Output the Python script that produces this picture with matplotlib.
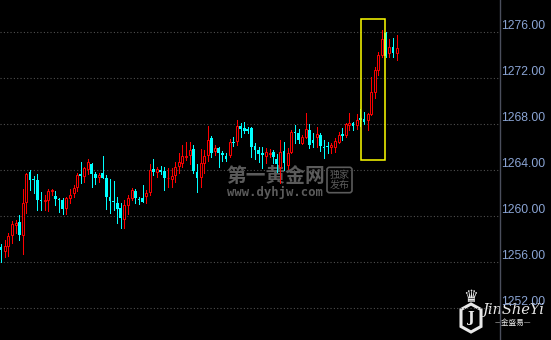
import matplotlib.pyplot as plt
import numpy as np
from matplotlib.patches import Rectangle, Polygon

# 数据: 每根K线的开高低收
opens = [1257.30, 1256.96, 1257.42, 1258.37, 1259.24, 1259.48, 1258.35, 1261.19, 1263.80, 1263.20,
         1263.13, 1261.39, 1261.33, 1261.39, 1262.20, 1261.74, 1261.48, 1261.39, 1260.72, 1261.59,
         1261.97, 1262.50, 1263.63, 1263.48, 1264.06, 1264.52, 1263.65, 1263.42, 1263.71, 1263.28,
         1261.62, 1261.33, 1261.10, 1260.72, 1259.74, 1260.96, 1261.59, 1262.17, 1261.45, 1261.54,
         1261.77, 1262.11, 1264.09, 1263.85, 1264.00, 1263.91, 1263.28, 1263.25, 1263.57, 1264.37,
         1264.63, 1265.16, 1265.30, 1265.83, 1263.85, 1263.37, 1264.58, 1265.30, 1266.81, 1265.68,
         1265.94, 1265.50, 1265.22, 1265.30, 1266.46, 1266.52, 1267.83, 1267.63, 1267.54, 1267.68,
         1266.09, 1265.74, 1265.45, 1265.24, 1265.39, 1265.59, 1264.93, 1264.29, 1265.68, 1264.43,
         1265.59, 1267.33, 1267.24, 1266.37, 1266.84, 1267.48, 1266.61, 1266.84, 1267.00, 1266.02,
         1266.06, 1265.98, 1266.03, 1266.46, 1267.13, 1267.04, 1267.91, 1268.06, 1267.91, 1268.50,
         1268.43, 1268.35, 1268.87, 1270.81, 1272.70, 1274.00, 1275.91, 1274.15, 1274.72, 1274.15]
highs = [1257.55, 1257.91, 1258.55, 1259.57, 1259.65, 1260.06, 1262.32, 1263.77, 1264.00, 1263.48,
         1263.65, 1262.11, 1261.83, 1262.32, 1262.37, 1262.20, 1261.60, 1261.54, 1261.68, 1262.32,
         1262.70, 1263.71, 1264.70, 1264.29, 1264.93, 1264.63, 1263.85, 1263.77, 1265.22, 1263.57,
         1263.19, 1263.04, 1261.63, 1261.10, 1261.39, 1261.83, 1262.46, 1262.35, 1261.63, 1262.70,
         1262.26, 1264.52, 1264.96, 1264.29, 1264.35, 1264.29, 1264.15, 1264.15, 1264.72, 1265.45,
         1266.17, 1266.41, 1266.41, 1266.17, 1264.52, 1265.83, 1265.74, 1267.83, 1266.98, 1266.17,
         1266.03, 1265.65, 1265.45, 1266.67, 1266.84, 1268.35, 1268.11, 1268.20, 1267.77, 1267.77,
         1266.37, 1266.03, 1266.03, 1265.89, 1265.80, 1265.74, 1265.39, 1266.61, 1266.46, 1265.89,
         1267.48, 1267.91, 1267.54, 1267.04, 1268.93, 1268.00, 1267.19, 1267.74, 1267.19, 1266.61,
         1266.46, 1266.37, 1266.76, 1267.33, 1267.63, 1268.11, 1268.93, 1268.20, 1268.84, 1269.28,
         1269.07, 1268.98, 1272.11, 1272.98, 1274.29, 1276.17, 1276.03, 1275.37, 1275.45, 1275.74]
lows = [1256.03, 1256.46, 1256.52, 1257.68, 1258.52, 1257.91, 1256.70, 1260.29, 1262.26, 1261.97,
        1260.52, 1260.52, 1260.52, 1260.43, 1261.83, 1260.96, 1260.37, 1260.20, 1260.20, 1261.10,
        1261.68, 1262.20, 1262.84, 1262.98, 1263.65, 1262.55, 1262.76, 1262.98, 1263.28, 1260.61,
        1260.23, 1260.52, 1259.42, 1258.98, 1258.93, 1260.17, 1261.39, 1261.10, 1261.04, 1261.19,
        1261.16, 1261.83, 1263.57, 1263.42, 1263.63, 1262.26, 1262.55, 1262.55, 1262.98, 1263.77,
        1264.29, 1264.87, 1264.52, 1263.71, 1262.11, 1262.55, 1263.71, 1264.78, 1265.16, 1265.30,
        1264.29, 1264.78, 1264.81, 1265.16, 1266.09, 1266.17, 1266.90, 1267.19, 1267.19, 1265.16,
        1264.93, 1264.72, 1264.15, 1264.58, 1265.10, 1264.58, 1263.85, 1262.84, 1264.00, 1264.06,
        1265.45, 1266.32, 1266.32, 1266.26, 1266.76, 1265.89, 1266.00, 1266.00, 1265.68, 1265.02,
        1265.45, 1265.50, 1265.59, 1266.32, 1266.61, 1266.84, 1267.48, 1267.48, 1267.54, 1267.83,
        1268.00, 1267.48, 1268.78, 1270.23, 1272.26, 1273.80, 1273.80, 1273.80, 1273.80, 1273.57]
closes = [1257.04, 1257.42, 1258.26, 1259.30, 1259.42, 1258.37, 1261.10, 1263.65, 1263.13, 1263.10,
          1261.39, 1261.30, 1261.39, 1262.15, 1262.29, 1261.45, 1261.39, 1260.61, 1261.54, 1261.83,
          1262.41, 1263.57, 1263.50, 1264.15, 1264.70, 1263.65, 1263.33, 1263.57, 1263.33, 1261.68,
          1261.33, 1261.19, 1260.61, 1259.85, 1260.96, 1261.54, 1262.26, 1261.54, 1261.37, 1261.24,
          1261.97, 1264.00, 1263.83, 1264.06, 1263.83, 1263.33, 1263.33, 1263.48, 1264.23, 1264.72,
          1265.22, 1265.22, 1265.74, 1263.91, 1263.33, 1264.58, 1265.22, 1266.61, 1265.50, 1265.89,
          1265.50, 1265.30, 1264.96, 1266.46, 1266.32, 1267.83, 1267.54, 1267.39, 1267.42, 1266.03,
          1265.74, 1265.39, 1265.30, 1265.54, 1265.50, 1265.10, 1264.50, 1265.59, 1264.58, 1265.50,
          1267.33, 1267.19, 1266.61, 1266.84, 1267.54, 1266.17, 1266.32, 1267.13, 1266.06, 1265.94,
          1265.98, 1266.17, 1266.55, 1267.04, 1266.96, 1268.00, 1268.06, 1267.83, 1268.35, 1268.35,
          1268.20, 1268.87, 1270.81, 1272.70, 1274.00, 1275.39, 1273.91, 1274.72, 1274.15, 1274.58]

yticks = [1252, 1256, 1260, 1264, 1268, 1272, 1276]
# 黄色框: 起止K线序号和价格范围
box_x = (99.2, 105.8)
box_y = (1264.85, 1277.1)

W, H = 551, 340


def fpos(x, y):
    # 像素坐标 -> figure坐标
    return x / W, 1 - y / H


fig = plt.figure(figsize=(W / 100, H / 100), dpi=100, facecolor='black')
ax = fig.add_axes([0, 0, 500 / W, 1])
ax.set_facecolor('none')

o = np.array(opens)
h = np.array(highs)
l = np.array(lows)
c = np.array(closes)
idx = np.arange(len(o))
up = c >= o
dn = ~up

# 影线
ax.vlines(idx[up], l[up], h[up], colors='#ff0000', lw=0.72, zorder=2, antialiased=False)
ax.vlines(idx[dn], l[dn], h[dn], colors='#00ffff', lw=0.72, zorder=2, antialiased=False)
# 实体: 阳线空心红, 阴线实心青
ax.bar(idx[up], np.maximum(c[up] - o[up], 0.04), bottom=o[up], width=0.55,
       facecolor='black', edgecolor='#ff0000', lw=0.7, zorder=3)
ax.bar(idx[dn], np.maximum(o[dn] - c[dn], 0.06), bottom=c[dn], width=0.75,
       facecolor='#00ffff', edgecolor='none', zorder=3, antialiased=False)

ax.add_patch(Rectangle((box_x[0], box_y[0]), box_x[1] - box_x[0], box_y[1] - box_y[0],
                       fill=False, edgecolor='#ffff00', lw=1.1, zorder=4))

ax.set_xlim(-0.28, 137.5)
ax.set_ylim(1249.22, 1278.78)

ax.set_yticks(yticks)
ax.set_yticklabels(['%.2f' % v for v in yticks])
ax.yaxis.tick_right()
ax.tick_params(axis='y', length=0, pad=1, labelsize=8.8, labelcolor='#8aa4d4')
for lab in ax.get_yticklabels():
    lab.set_verticalalignment('bottom')
    lab.set_fontfamily('Liberation Sans')
ax.set_xticks([])
ax.grid(axis='y', color='#505050', ls=(0, (1, 2)), lw=0.8)
for s in ['top', 'bottom', 'left']:
    ax.spines[s].set_visible(False)
ax.spines['right'].set_color('#4a4e5c')
ax.spines['right'].set_linewidth(1)

# 水印
wm = '#5b5b5b'
fig.text(*fpos(276, 176), '第一黄金网', color=wm, fontsize=14.2, fontweight='bold',
         family='Noto Sans CJK SC', ha='center', va='center', zorder=-1)
fig.text(*fpos(275, 196), 'www.dyhjw.com', color=wm, fontsize=8.8, fontweight='bold',
         family='DejaVu Sans Mono', ha='center', va='baseline', zorder=-1)
fig.text(*fpos(339.5, 180), '独家\n发布', color=wm, fontsize=7.2, linespacing=1.05,
         family='Noto Sans CJK SC', ha='center', va='center', zorder=-1,
         bbox=dict(boxstyle='round,pad=0.25', fc='none', ec=wm, lw=1.2))

# 金盛易 logo
fig.text(*fpos(471, 297), '♛', color='#e8e8e8', fontsize=12, family='DejaVu Sans',
         ha='center', va='center', zorder=-1)
hexpts = [fpos(471, 304), fpos(481, 309.5), fpos(481, 326.5), fpos(471, 332),
          fpos(461, 326.5), fpos(461, 309.5)]
fig.patches.append(Polygon(hexpts, closed=True, fill=False, edgecolor='#e8e8e8', lw=2.2,
                           transform=fig.transFigure, figure=fig, zorder=-1))
fig.text(*fpos(471, 318), 'J', color='#e8e8e8', fontsize=10, fontweight='bold',
         family='DejaVu Serif', ha='center', va='center', zorder=-1)
fig.text(*fpos(513, 310), 'JinSheYi', color='#e8e8e8', fontsize=10.5, style='italic',
         family='DejaVu Serif', ha='center', va='center', zorder=-1)
fig.text(*fpos(513, 323), '—金盛易—', color='#e8e8e8', fontsize=5.5,
         family=['Noto Sans CJK SC', 'DejaVu Sans'], ha='center', va='center', zorder=-1)

fig.savefig('out.png', dpi=100, facecolor='black')
